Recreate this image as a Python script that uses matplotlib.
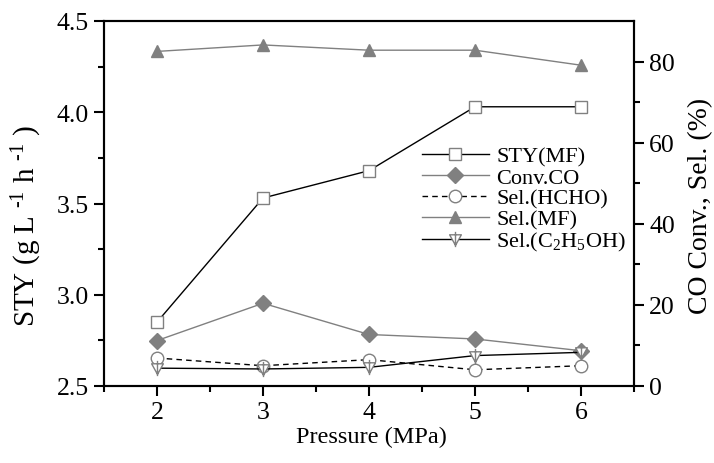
import matplotlib
matplotlib.use("Agg")
import matplotlib.pyplot as plt
from matplotlib.path import Path

plt.rcParams['font.family'] = ['Liberation Serif', 'DejaVu Serif']
plt.rcParams['mathtext.fontset'] = 'custom'
plt.rcParams['mathtext.rm'] = 'Liberation Serif'
plt.rcParams['mathtext.it'] = 'Liberation Serif:italic'

# datos
presion = [2, 3, 4, 5, 6]
sty_mf = [2.85, 3.53, 3.68, 4.03, 4.03]
conv_co = [11.2, 20.4, 12.7, 11.6, 8.7]
sel_hcho = [6.9, 5.0, 6.5, 4.0, 5.0]
sel_mf = [82.5, 84.1, 82.8, 82.8, 79.1]
sel_etoh = [4.4, 4.2, 4.6, 7.5, 8.3]

gris = '#808080'

# triangulo invertido con linea vertical
tri = Path([(-1, 0.8), (1, 0.8), (0, -1), (-1, 0.8), (0, 1.3), (0, -1.3)],
           [Path.MOVETO, Path.LINETO, Path.LINETO, Path.CLOSEPOLY,
            Path.MOVETO, Path.LINETO])

fig = plt.figure(figsize=(7.14, 4.64), dpi=100)
ax = fig.add_axes([104/714, 77/464, 530/714, 365/464])
ax2 = ax.twinx()

l1, = ax.plot(presion, sty_mf, color='black', lw=1, marker='s', ms=8,
              mfc='white', mec=gris, mew=1, label='STY(MF)')
l2, = ax2.plot(presion, conv_co, color=gris, lw=1, marker='D', ms=8,
               mfc=gris, mec=gris, label='Conv.CO')
l3, = ax2.plot(presion, sel_hcho, color='black', lw=1, ls=(0, (4, 3)), marker='o', ms=9,
               mfc='white', mec=gris, mew=1, label='Sel.(HCHO)')
l4, = ax2.plot(presion, sel_mf, color=gris, lw=1, marker='^', ms=9,
               mfc=gris, mec=gris, label='Sel.(MF)')
l5, = ax2.plot(presion, sel_etoh, color='black', lw=1, marker=tri, ms=11,
               mfc='white', mec=gris, mew=1, label='Sel.(C$_\\mathregular{2}$H$_\\mathregular{5}$OH)')

ax.set_xlim(1.5, 6.5)
ax.set_ylim(2.5, 4.5)
ax2.set_ylim(0, 90)
ax.set_xticks([2, 3, 4, 5, 6])
ax.set_xticks([1.5, 2.5, 3.5, 4.5, 5.5, 6.5], minor=True)
ax.set_yticks([2.5, 3.0, 3.5, 4.0, 4.5])
ax.set_yticks([2.75, 3.25, 3.75, 4.25], minor=True)
ax2.set_yticks([0, 20, 40, 60, 80])
ax2.set_yticks([10, 30, 50, 70], minor=True)
ax.set_yticklabels(['2.5', '3.0', '3.5', '4.0', '4.5'])

for a in (ax, ax2):
    for s in a.spines.values():
        s.set_linewidth(1.5)
    a.tick_params(which='major', direction='out', length=7, width=1.5, labelsize=18.5, pad=4)
    a.tick_params(which='minor', direction='out', length=4, width=1.5)
ax.tick_params(axis='both', which='both', top=False, right=False)

ax.set_xlabel('Pressure (MPa)', fontsize=17.5)
ax.set_ylabel('STY (g L $^{\\text{-1}}$ h $^{\\text{-1}}$ )', fontsize=21)
ax2.set_ylabel('CO Conv., Sel. (%)', fontsize=20)
ax.xaxis.set_label_coords(0.504, -0.11)
ax.yaxis.set_label_coords(-0.113, 0.44)
ax2.yaxis.set_label_coords(1.102, 0.496)

leg = ax2.legend(handles=[l1, l2, l3, l4, l5], loc='upper left',
                 bbox_to_anchor=(422/714, 1 - 147/464), bbox_transform=fig.transFigure,
                 frameon=False, fontsize=16, handlelength=3.0, handletextpad=0.35,
                 labelspacing=0.02, borderpad=0, borderaxespad=0)

fig.savefig('out.png', dpi=100)
